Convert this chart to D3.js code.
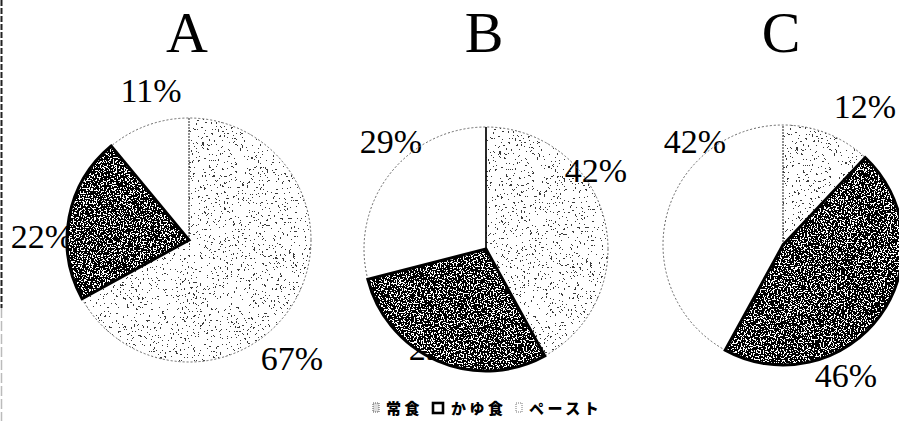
<!DOCTYPE html>
<html>
<head>
<meta charset="utf-8">
<script src="https://cdn.jsdelivr.net/npm/d3@7/dist/d3.min.js"></script>
<style>
  html, body { margin: 0; padding: 0; background: #fff; }
  svg { display: block; }
</style>
</head>
<body>
<svg id="chart" width="899" height="421"></svg>
<script>
// Meal type shares per group (percent)
const groups = ["A", "B", "C"];
const mealTypes = ["常食", "かゆ食", "ペースト"];
const shareA = [67, 22, 11];
const shareB = [42, 29, 29];
const shareC = [12, 46, 42];
const shares = [shareA, shareB, shareC];

// Layout: pie centres / radii, and label offsets (relative to each centre)
const pieLayout = [
  { cx: 189, cy: 240, r: 122 },
  { cx: 486, cy: 249, r: 122 },
  { cx: 783, cy: 245, r: 120 }
];
const labelOffsets = [
  [[103, 130], [-147, 8], [-38, -138]],
  [[110, -67], [-46, 111], [-95, -96]],
  [[82, -127], [63, 142], [-88, -92]]
];

const svg = d3.select("#chart");
const defs = svg.append("defs");

// Stipple textures: thresholded fractal noise used as a mask
function speckleFilter(id, seed, freq, octaves, threshold) {
  const n = 50;
  const k = Math.round(threshold * n);
  const table = d3.range(n).map(i => (i < k ? 0 : 1)).join(" ");
  const f = defs.append("filter")
    .attr("id", id)
    .attr("x", 0).attr("y", 0).attr("width", 1).attr("height", 1);
  f.append("feTurbulence")
    .attr("type", "fractalNoise")
    .attr("baseFrequency", freq)
    .attr("numOctaves", octaves)
    .attr("seed", seed)
    .attr("result", "noise");
  f.append("feColorMatrix")
    .attr("in", "noise")
    .attr("type", "matrix")
    .attr("values", "0 0 0 0 0  0 0 0 0 0  0 0 0 0 0  1 0 0 0 0")
    .attr("result", "a");
  const ct = f.append("feComponentTransfer").attr("in", "a").attr("result", "mask");
  ct.append("feFuncA").attr("type", "discrete").attr("tableValues", table);
  f.append("feComposite")
    .attr("in", "SourceGraphic")
    .attr("in2", "mask")
    .attr("operator", "in");
}
speckleFilter("lightSpeck", 7, 0.45, 3, 0.68);
speckleFilter("darkSpeck", 3, 0.7, 2, 0.56);

// Scan edge at the far left
svg.append("line")
  .attr("x1", 1.5).attr("x2", 1.5).attr("y1", 0).attr("y2", 308)
  .attr("stroke", "#222").attr("stroke-width", 2).attr("stroke-dasharray", "6 2");
svg.append("line")
  .attr("x1", 1.5).attr("x2", 1.5).attr("y1", 308).attr("y2", 421)
  .attr("stroke", "#bbb").attr("stroke-width", 1.5).attr("stroke-dasharray", "10 3");

const pie = d3.pie().sort(null).value(d => d);
const serif = "'Liberation Serif', 'Times New Roman', serif";

groups.forEach((g, gi) => {
  const L = pieLayout[gi];
  const arc = d3.arc().innerRadius(0).outerRadius(L.r);
  const arcs = pie(shares[gi]);
  const root = svg.append("g").attr("transform", `translate(${L.cx},${L.cy})`);

  // base fills
  root.selectAll("path.base").data(arcs).join("path")
    .attr("class", "base")
    .attr("d", arc)
    .attr("fill", (d, i) => (i === 1 ? "#000" : "#fff"));

  // light stipple on 常食
  root.append("path")
    .attr("d", arc(arcs[0]))
    .attr("fill", "#3a3a3a")
    .attr("filter", "url(#lightSpeck)");

  // percentage labels (black text disappears into the dark slice)
  arcs.forEach((d, i) => {
    const o = labelOffsets[gi][i];
    root.append("text")
      .attr("x", o[0])
      .attr("y", o[1])
      .attr("text-anchor", "middle")
      .attr("font-family", serif)
      .attr("font-size", 34)
      .attr("fill", "#000")
      .text(d.data + "%");
  });

  // white specks over the かゆ食 slice
  root.append("path")
    .attr("d", arc(arcs[1]))
    .attr("fill", "#fff")
    .attr("filter", "url(#darkSpeck)");

  // outer dotted rim
  root.append("circle")
    .attr("r", L.r)
    .attr("fill", "none")
    .attr("stroke", "#666")
    .attr("stroke-width", 1)
    .attr("stroke-dasharray", "2 2");

  // boundary of the 常食 slice at 12 o'clock
  root.append("line")
    .attr("x1", 0).attr("y1", 0).attr("x2", 0).attr("y2", -L.r)
    .attr("stroke", gi === 1 ? "#111" : "#444")
    .attr("stroke-width", gi === 1 ? 1.8 : 1.2)
    .attr("stroke-dasharray", gi === 1 ? null : "2 1");

  // thick outline of the かゆ食 slice
  root.append("path")
    .attr("d", arc(arcs[1]))
    .attr("fill", "none")
    .attr("stroke", "#000")
    .attr("stroke-width", 3)
    .attr("stroke-linejoin", "miter");

  // title
  svg.append("text")
    .attr("x", L.cx - 2)
    .attr("y", 52)
    .attr("text-anchor", "middle")
    .attr("font-family", serif)
    .attr("font-size", 58)
    .attr("fill", "#000")
    .text(g);
});

// Legend
const legend = svg.append("g");
const swatchX = [373, 433, 516];
const textX = [386, 451, 529];
mealTypes.forEach((m, i) => {
  const sw = legend.append("rect")
    .attr("x", swatchX[i]).attr("y", 403)
    .attr("width", i === 1 ? 10 : 6).attr("height", i === 1 ? 10 : 9);
  if (i === 0) {
    sw.attr("fill", "#ddd").attr("stroke", "#555").attr("stroke-width", 1).attr("stroke-dasharray", "1 1");
  } else if (i === 1) {
    sw.attr("fill", "#fff").attr("stroke", "#000").attr("stroke-width", 2.6);
  } else {
    sw.attr("fill", "#fff").attr("stroke", "#777").attr("stroke-width", 1).attr("stroke-dasharray", "1 1");
  }
  legend.append("text")
    .attr("x", textX[i])
    .attr("y", 414)
    .attr("font-family", "'Noto Sans CJK JP', sans-serif")
    .attr("font-weight", 900)
    .attr("font-size", 15)
    .attr("letter-spacing", 3.5)
    .attr("fill", "#000")
    .text(m);
});
</script>
</body>
</html>
